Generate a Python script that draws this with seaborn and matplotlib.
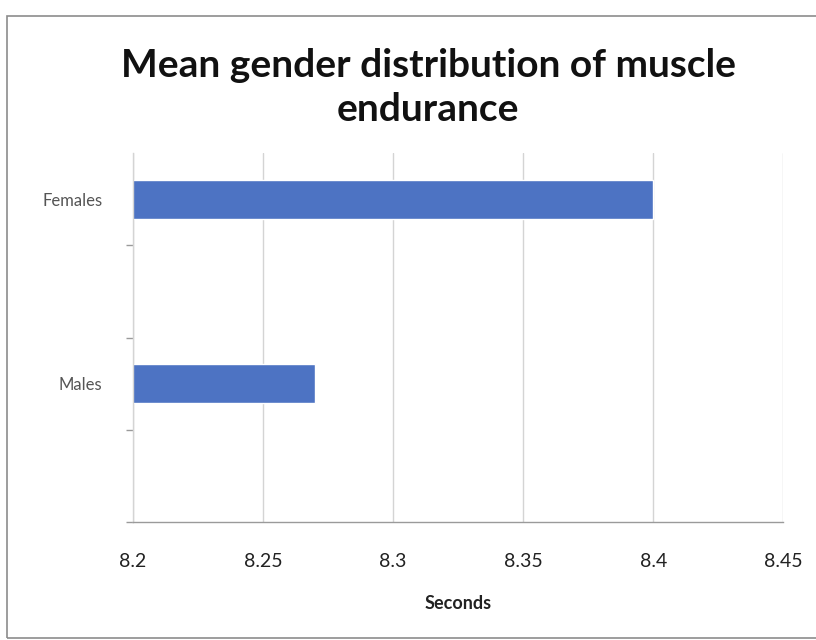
import matplotlib
matplotlib.use("Agg")
import matplotlib.pyplot as plt
from matplotlib.patches import Rectangle
import seaborn as sns
import pandas as pd

# Mean time (seconds) per gender; blank slots keep the category spacing
categories = ["Females", "", "Males", " "]
mean_seconds = [8.40, None, 8.27, None]
x_ticks = [8.2, 8.25, 8.3, 8.35, 8.4, 8.45]
x_tick_labels = ["8.2", "8.25", "8.3", "8.35", "8.4", "8.45"]

title = "Mean gender distribution of muscle\nendurance"
x_label = "Seconds"

bar_color = "#4d73c3"
grid_color = "#d4d4d4"
axis_color = "#9a9a9a"

sns.set_theme(style="white")
plt.rcParams["font.family"] = ["Lato", "DejaVu Sans"]

df = pd.DataFrame({"gender": categories, "seconds": mean_seconds})

fig = plt.figure(figsize=(8.16, 6.4), dpi=100)
ax = fig.add_axes([0.163, 0.184, 0.797, 0.577])

sns.barplot(data=df, y="gender", x="seconds", order=categories,
            color=bar_color, saturation=1, width=0.42, orient="h", ax=ax)

ax.set_xlim(8.2, 8.45)
ax.set_ylim(3.5, -0.5)
ax.set_xticks(x_ticks)
ax.set_xticklabels(x_tick_labels, fontsize=14, color="#222222")
ax.xaxis.grid(True, color=grid_color, linewidth=1)
ax.set_axisbelow(True)
ax.tick_params(axis="x", length=0, pad=22)

# Category ticks sit on the slot boundaries
ax.set_yticks([0, 2])
ax.set_yticklabels(["Females", "Males"], fontsize=12, color="#555555")
ax.set_yticks([0.5, 1.5, 2.5, 3.5], minor=True)
ax.tick_params(axis="y", which="major", length=0, pad=22)
ax.tick_params(axis="y", which="minor", length=5, width=1, color=axis_color, left=True)

for side in ["top", "right"]:
    ax.spines[side].set_visible(False)
ax.spines["left"].set_color(grid_color)
ax.spines["bottom"].set_color(axis_color)
ax.spines["left"].set_linewidth(1)
ax.spines["bottom"].set_linewidth(1)

ax.set_ylabel("")
ax.set_xlabel(x_label, fontsize=13, fontweight="bold", color="#222222", labelpad=18)

fig.text(0.525, 0.863, title, ha="center", va="center", fontsize=28,
         fontweight="bold", color="#111111", linespacing=1.32)

# Chart area frame
fig.patches.append(Rectangle((0.009, 0.003), 1.2, 0.972, transform=fig.transFigure,
                             fill=False, edgecolor="#8c8c8c", linewidth=1.2))

fig.savefig("out.png", dpi=100, facecolor="white")
